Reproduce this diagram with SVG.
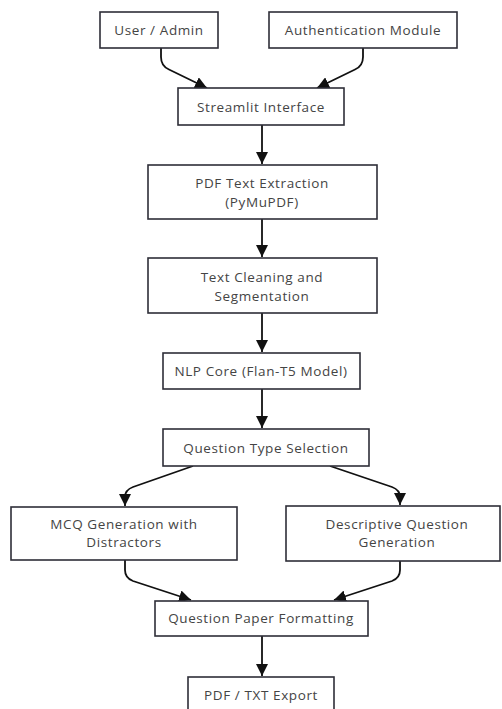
<svg xmlns="http://www.w3.org/2000/svg" width="502" height="709" viewBox="0 0 502 709">
<style>
.box{fill:#ffffff;stroke:#2e2e38;stroke-width:1.6}
.t{font-family:"Open Sans","Noto Sans","DejaVu Sans",sans-serif;font-size:13.5px;font-weight:500;letter-spacing:0.6px;fill:#444;text-anchor:middle;dominant-baseline:central}
.e{fill:none;stroke:#111;stroke-width:1.8}
</style>
<defs>
<marker id="ah" markerUnits="userSpaceOnUse" markerWidth="12" markerHeight="12" viewBox="0 0 10 10" refX="10" refY="5" orient="auto">
<path d="M0,0 L10,5 L0,10 z" fill="#111"/>
</marker>
</defs>
<rect width="502" height="709" fill="#ffffff"/>
<g id="connectors">
<path class="e" marker-end="url(#ah)" d="M161,48 V57 Q161,66 169,69.5 L207,88"/>
<path class="e" marker-end="url(#ah)" d="M363,48 V57 Q363,66 355,69.5 L317,88"/>
<path class="e" marker-end="url(#ah)" d="M262,125 V164"/>
<path class="e" marker-end="url(#ah)" d="M262,219 V257"/>
<path class="e" marker-end="url(#ah)" d="M262,313 V352"/>
<path class="e" marker-end="url(#ah)" d="M262,389 V428"/>
<path class="e" marker-end="url(#ah)" d="M193,466 L133,487 Q125,490 125,497 V506"/>
<path class="e" marker-end="url(#ah)" d="M330,466 L392,487 Q400,490 400,497 V505"/>
<path class="e" marker-end="url(#ah)" d="M125,560 V570 Q125,578 133,581 L191,600"/>
<path class="e" marker-end="url(#ah)" d="M400,561 V570 Q400,578 392,581 L334,600"/>
<path class="e" marker-end="url(#ah)" d="M262,636 V676"/>
</g>
<g id="user"><rect class="box" x="100" y="12" width="118" height="36"/><text class="t" x="159" y="30">User / Admin</text></g>
<g id="auth"><rect class="box" x="269" y="12" width="188" height="36"/><text class="t" x="363" y="30">Authentication Module</text></g>
<g id="streamlit"><rect class="box" x="178" y="88" width="166" height="37"/><text class="t" x="261" y="107">Streamlit Interface</text></g>
<g id="pdf"><rect class="box" x="148" y="165" width="229" height="54"/><text class="t" x="262" y="183">PDF Text Extraction</text><text class="t" x="262" y="202">(PyMuPDF)</text></g>
<g id="clean"><rect class="box" x="148" y="258" width="229" height="55"/><text class="t" x="262" y="277">Text Cleaning and</text><text class="t" x="262" y="296">Segmentation</text></g>
<g id="nlp"><rect class="box" x="163" y="353" width="197" height="36"/><text class="t" x="261" y="371">NLP Core (Flan-T5 Model)</text></g>
<g id="qtype"><rect class="box" x="163" y="429" width="206" height="37"/><text class="t" x="266" y="448">Question Type Selection</text></g>
<g id="mcq"><rect class="box" x="11" y="507" width="226" height="53"/><text class="t" x="124" y="524">MCQ Generation with</text><text class="t" x="124" y="542">Distractors</text></g>
<g id="desc"><rect class="box" x="286" y="506" width="214" height="55"/><text class="t" x="397" y="524">Descriptive Question</text><text class="t" x="397" y="542">Generation</text></g>
<g id="format"><rect class="box" x="155" y="601" width="213" height="35"/><text class="t" x="261" y="618">Question Paper Formatting</text></g>
<g id="export"><rect class="box" x="188" y="677" width="146" height="44"/><text class="t" x="261" y="695">PDF / TXT Export</text></g>
</svg>
